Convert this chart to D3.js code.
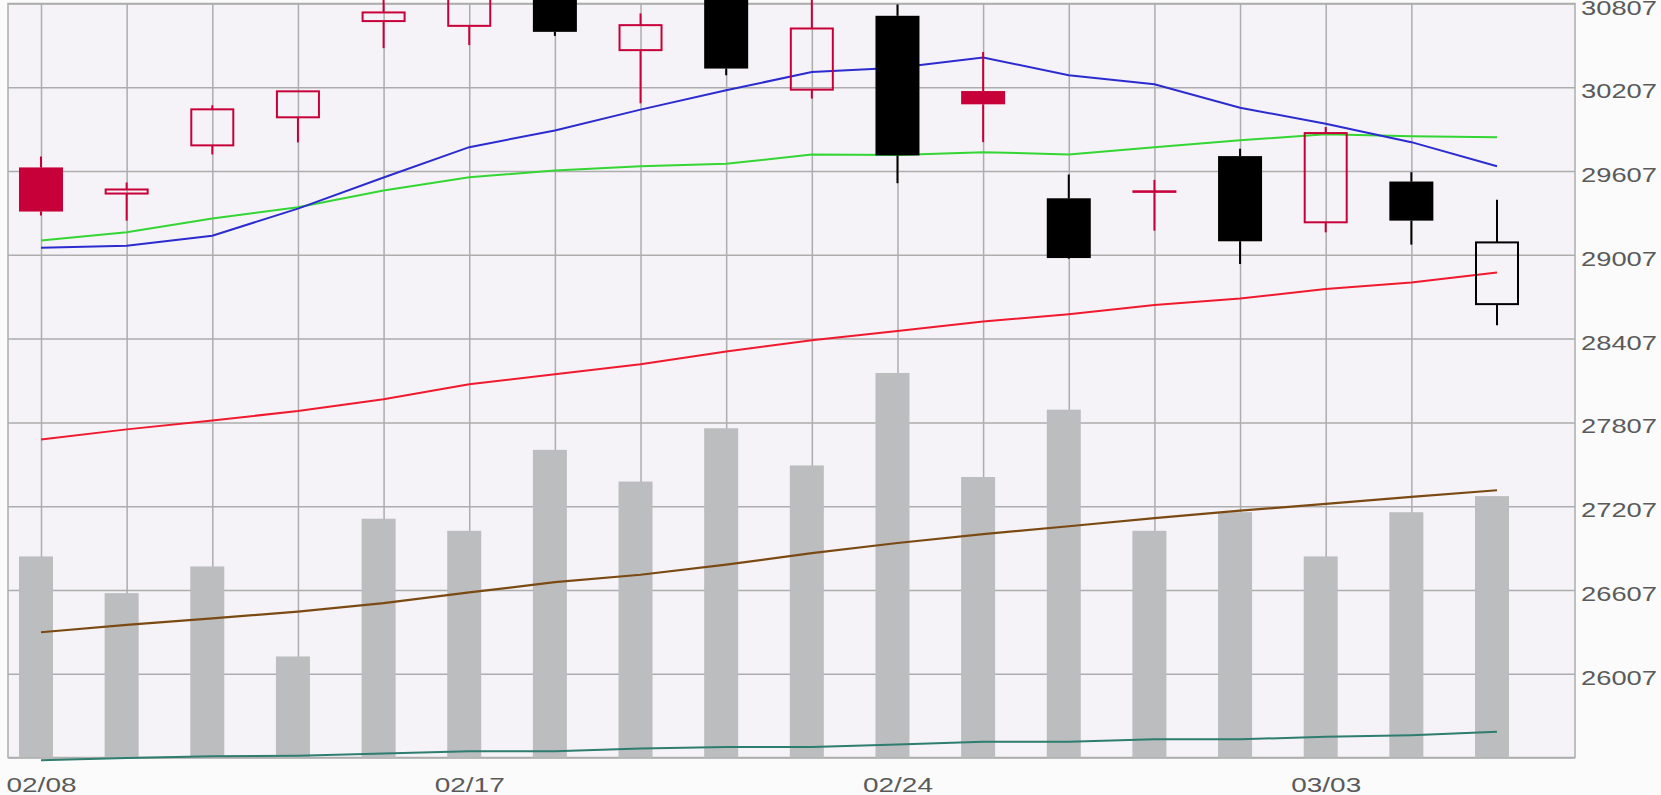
<!DOCTYPE html>
<html>
<head>
<meta charset="utf-8">
<script src="https://cdn.jsdelivr.net/npm/d3@7"></script>
<style>
html, body { margin: 0; padding: 0; background: #fbfbfb; }
svg { display: block; font-family: "Liberation Sans", Arial, sans-serif; }
</style>
</head>
<body>
<svg id="chart" width="1661" height="795"></svg>
<script>
// tick labels on the date axis (sessions 0..17) and on the price axis
const dateTicks = [0, 5, 10, 15];
const dateLabels = ["02/08", "02/17", "02/24", "03/03"];
const priceTicks = [25407, 26007, 26607, 27207, 27807, 28407, 29007, 29607, 30207, 30807];

// daily candles
const openP  = [29633, 29446, 29791, 29992, 30681, 30647, 30950, 30473, 30900, 30190, 30719, 30180, 29412, 29458, 29714, 29240, 29532, 28654];
const highP  = [29712, 29525, 30078, 30178, 30840, 30950, 31000, 30736, 30950, 30900, 30800, 30460, 29582, 29544, 29767, 29922, 29599, 29401];
const lowP   = [29288, 29252, 29726, 29812, 30487, 30509, 30575, 30092, 30293, 30126, 29520, 29814, 28979, 29180, 28941, 29168, 29080, 28503];
const closeP = [29317, 29475, 30049, 30178, 30743, 30900, 30604, 30652, 30341, 30628, 29719, 30085, 28984, 29462, 29104, 29879, 29252, 29096];
const prevClose0 = 29250; // close before the first session (estimate)

// volume (millions)
const volume = [400, 327, 380, 201, 475, 451, 612, 549, 655, 581, 765, 558, 692, 451, 488, 400, 488, 520];

// moving averages
const maBlue  = [29058, 29072, 29144, 29338, 29561, 29778, 29898, 30047, 30185, 30317, 30347, 30420, 30293, 30229, 30061, 29946, 29814, 29642];
const maGreen = [29109, 29168, 29267, 29348, 29468, 29563, 29611, 29642, 29659, 29726, 29722, 29742, 29726, 29778, 29827, 29870, 29857, 29850];
const maRed   = [27685, 27757, 27821, 27888, 27972, 28080, 28152, 28223, 28314, 28396, 28462, 28529, 28582, 28647, 28694, 28762, 28809, 28881];
const maBrown = [26304, 26357, 26404, 26452, 26512, 26589, 26663, 26716, 26788, 26871, 26943, 27007, 27063, 27122, 27175, 27223, 27273, 27321];
const maTeal  = [25388, 25404, 25416, 25419, 25435, 25452, 25452, 25471, 25483, 25483, 25500, 25519, 25519, 25538, 25538, 25555, 25567, 25591];

const svg = d3.select('#chart');
const pLeft = 8, pRight = 1575, pTop = 3.5, pBottom = 757.5;

const x = d3.scaleLinear().domain([0, 17]).range([41, 1497]);
const y = d3.scaleLinear().domain([25407, 30807]).range([pBottom, pTop]);
const yv = d3.scaleLinear().domain([0, 1500]).range([pBottom, pTop]);

const RED = '#c8003a', BLACK = '#000';
const idx = d3.range(openP.length);

// plot background
svg.append('rect')
  .attr('x', pLeft).attr('y', pTop)
  .attr('width', pRight - pLeft).attr('height', pBottom - pTop)
  .attr('fill', '#f5f3f7');

// horizontal grid
svg.append('g')
  .attr('transform', `translate(${pLeft},0)`)
  .call(d3.axisRight(y).tickValues(priceTicks).tickSize(pRight - pLeft).tickFormat(''))
  .call(g => g.select('.domain').remove())
  .call(g => g.selectAll('line').attr('stroke', '#adadad').attr('stroke-width', 1.5));

// vertical grid (not on the last session)
svg.append('g')
  .attr('transform', `translate(0,${pTop})`)
  .call(d3.axisBottom(x).tickValues(idx.slice(0, -1)).tickSize(pBottom - pTop).tickFormat(''))
  .call(g => g.select('.domain').remove())
  .call(g => g.selectAll('line').attr('stroke', '#adadad').attr('stroke-width', 1.5));

// plot frame
svg.append('rect')
  .attr('x', pLeft).attr('y', pTop)
  .attr('width', pRight - pLeft).attr('height', pBottom - pTop)
  .attr('fill', 'none').attr('stroke', '#adadad').attr('stroke-width', 1.5);

// volume bars
svg.append('g').selectAll('rect')
  .data(idx).enter().append('rect')
  .attr('x', i => x(i) - 22)
  .attr('y', i => yv(volume[i]))
  .attr('width', 34)
  .attr('height', i => yv(0) - yv(volume[i]))
  .attr('fill', '#bcbdbf');

// moving average lines
const line = d3.line().x((d, i) => x(i)).y(d => y(d));
[[maTeal, '#2e7d6e', 2], [maBrown, '#7b4a12', 2.2], [maRed, '#f0192e', 2],
 [maGreen, '#33d633', 2], [maBlue, '#2b2bd0', 2]].forEach(([data, col, w]) => {
  svg.append('path')
    .attr('d', line(data))
    .attr('fill', 'none')
    .attr('stroke', col)
    .attr('stroke-width', w);
});

// candles
const bodyW = 44;
svg.append('g').selectAll('g')
  .data(idx).enter().append('g')
  .each(function (i) {
    const g = d3.select(this);
    const prev = i === 0 ? prevClose0 : closeP[i - 1];
    const col = closeP[i] >= prev ? RED : BLACK;
    const filled = closeP[i] < openP[i];
    const yTop = y(Math.max(openP[i], closeP[i]));
    const yBot = y(Math.min(openP[i], closeP[i]));
    const cx = x(i);
    g.append('line')
      .attr('x1', cx).attr('x2', cx)
      .attr('y1', y(highP[i])).attr('y2', yTop)
      .attr('stroke', col).attr('stroke-width', 2);
    g.append('line')
      .attr('x1', cx).attr('x2', cx)
      .attr('y1', yBot).attr('y2', y(lowP[i]))
      .attr('stroke', col).attr('stroke-width', 2);
    if (filled) {
      g.append('rect')
        .attr('x', cx - bodyW / 2).attr('y', yTop)
        .attr('width', bodyW).attr('height', Math.max(2, yBot - yTop))
        .attr('fill', col);
    } else {
      g.append('rect')
        .attr('x', cx - bodyW / 2 + 1).attr('y', yTop)
        .attr('width', bodyW - 2).attr('height', yBot - yTop)
        .attr('fill', 'none')
        .attr('stroke', col).attr('stroke-width', 2);
    }
  });

// price labels on the right
svg.append('g')
  .attr('transform', `translate(${pRight},0)`)
  .call(d3.axisRight(y).tickValues(priceTicks.slice(1)).tickSize(0).tickPadding(6)
    .tickFormat(d3.format('d')))
  .call(g => g.select('.domain').remove())
  .call(g => g.selectAll('text')
    .attr('dy', '0.5em')
    .attr('font-size', 21)
    .attr('font-family', '"Liberation Sans", Arial, sans-serif')
    .attr('fill', '#5a5a5a')
    .attr('textLength', 76)
    .attr('lengthAdjust', 'spacingAndGlyphs'));

// date labels
svg.append('g')
  .attr('transform', `translate(0,${pBottom})`)
  .call(d3.axisBottom(x).tickValues(dateTicks).tickSize(0).tickPadding(20)
    .tickFormat((d, i) => dateLabels[i]))
  .call(g => g.select('.domain').remove())
  .call(g => g.selectAll('text')
    .attr('font-size', 21)
    .attr('font-family', '"Liberation Sans", Arial, sans-serif')
    .attr('fill', '#5a5a5a')
    .attr('textLength', 70)
    .attr('lengthAdjust', 'spacingAndGlyphs'));
</script>
</body>
</html>
